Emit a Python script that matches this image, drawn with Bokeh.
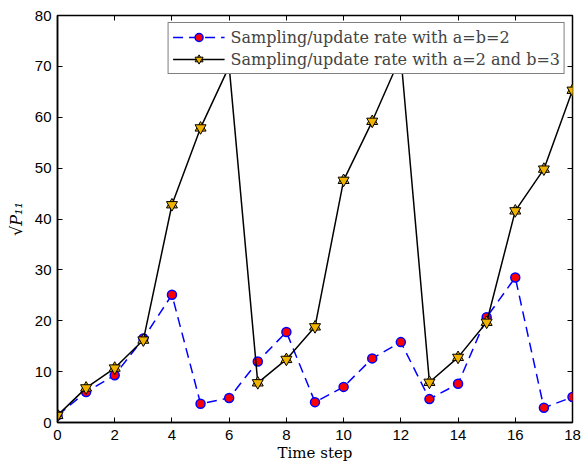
from bokeh.plotting import figure
from bokeh.models import Range1d, LinearAxis, Legend, LegendItem, FixedTicker, ColumnDataSource
from bokeh.embed import file_html
from bokeh.resources import INLINE

steps = list(range(19))
rate_ab2 = [1.4, 6.0, 9.3, 16.5, 25.1, 3.7, 4.8, 12.0, 17.8, 4.0, 7.0, 12.6, 15.8, 4.6, 7.6, 20.7, 28.5, 2.9, 5.0]
rate_a2b3 = [1.4, 6.8, 10.7, 16.2, 42.8, 57.9, 70.0, 7.8, 12.4, 18.8, 47.6, 59.2, 72.0, 7.9, 12.8, 19.7, 41.6, 49.8, 65.3]
x_ticks = [0, 2, 4, 6, 8, 10, 12, 14, 16, 18]
y_ticks = [0, 10, 20, 30, 40, 50, 60, 70, 80]
label_1 = "Sampling/update rate with a=b=2"
label_2 = "Sampling/update rate with a=2 and b=3"

src = ColumnDataSource(dict(x=steps, y1=rate_ab2, y2=rate_a2b3))

p = figure(width=587, height=464, output_backend="svg", toolbar_location=None,
           x_range=Range1d(0, 18), y_range=Range1d(0, 80),
           min_border_left=57, min_border_top=15, min_border_right=15, min_border_bottom=41)
p.background_fill_color = "white"
p.border_fill_color = "white"
p.outline_line_color = "black"
p.outline_line_width = 1.5
p.grid.visible = False

serif = "DejaVu Serif"
sans = "Liberation Sans"

for ax in (p.xaxis[0], p.yaxis[0]):
    ax.major_tick_in = 5
    ax.major_tick_out = 0
    ax.minor_tick_line_color = None
    ax.axis_line_width = 1.5
    ax.major_label_text_font = sans
    ax.major_label_text_font_size = "15px"
    ax.major_label_text_color = "black"
    ax.axis_label_text_font_style = "normal"
    ax.axis_label_text_color = "black"
p.xaxis[0].ticker = FixedTicker(ticks=x_ticks)
p.yaxis[0].ticker = FixedTicker(ticks=y_ticks)
p.xaxis[0].axis_label = "Time step"
p.xaxis[0].axis_label_text_font = serif
p.xaxis[0].axis_label_text_font_size = "15px"
p.xaxis[0].axis_label_standoff = 1
p.xaxis[0].major_label_standoff = 7
p.yaxis[0].axis_label = "\u221aP\u2081\u2081"
p.yaxis[0].axis_label_text_font = serif
p.yaxis[0].axis_label_text_font_style = "italic"
p.yaxis[0].axis_label_text_font_size = "16px"
p.yaxis[0].axis_label_standoff = 6
p.yaxis[0].major_label_standoff = 6

top = LinearAxis(ticker=FixedTicker(ticks=x_ticks))
right = LinearAxis(ticker=FixedTicker(ticks=y_ticks))
top.major_label_overrides = {t: "" for t in x_ticks}
right.major_label_overrides = {t: "" for t in y_ticks}
for ax in (top, right):
    ax.major_tick_in = 5
    ax.major_tick_out = 0
    ax.minor_tick_line_color = None
    ax.major_label_text_font_size = "1px"
    ax.major_label_standoff = 0
    ax.axis_line_color = None
p.add_layout(top, "above")
p.add_layout(right, "right")

l1 = p.line("x", "y1", source=src, line_color="blue", line_dash="10 6", line_width=1.5)
c1 = p.scatter("x", "y1", source=src, marker="circle", size=9, fill_color="red", line_color="blue", line_width=1.5)
l2 = p.line("x", "y2", source=src, line_color="black", line_width=1.5)
t1 = p.scatter("x", "y2", source=src, marker="triangle", size=11, fill_color="#F0B400", line_color="black", line_width=1)
t2 = p.scatter("x", "y2", source=src, marker="inverted_triangle", size=11, fill_color="#F0B400", line_color="black", line_width=1)

legend = Legend(items=[LegendItem(label=label_1, renderers=[l1, c1]),
                       LegendItem(label=label_2, renderers=[l2, t1, t2])],
                location="top_right")
legend.margin = 7
legend.padding = 4
legend.spacing = 2
legend.glyph_width = 52
legend.glyph_height = 20
legend.label_height = 20
legend.label_standoff = 6
legend.label_text_font = serif
legend.label_text_font_size = "16px"
legend.border_line_color = "black"
legend.border_line_width = 1.5
legend.background_fill_alpha = 1
p.add_layout(legend, "center")

open("out.html", "w").write(file_html(p, INLINE))
